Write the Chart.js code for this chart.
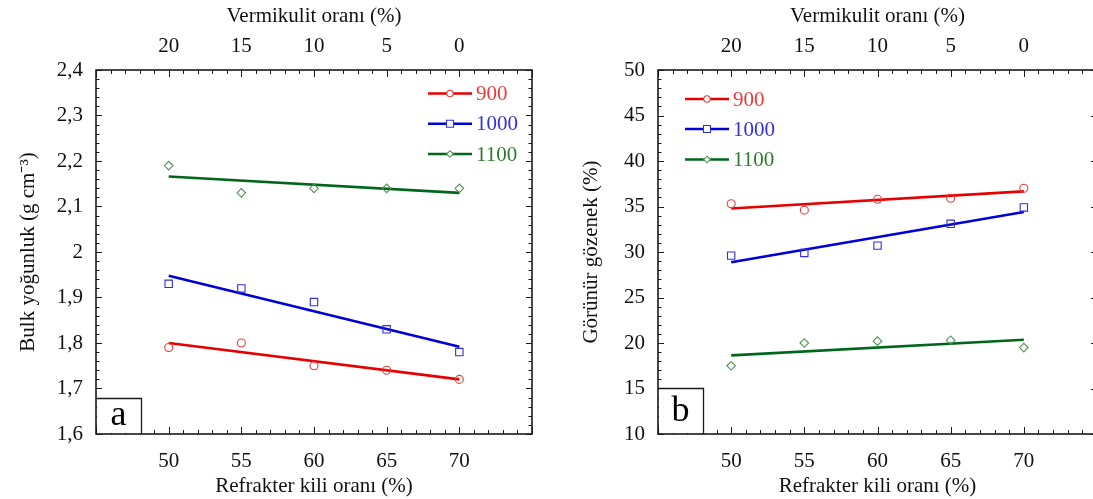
<!DOCTYPE html>
<html><head><meta charset="utf-8">
<script src="https://cdn.jsdelivr.net/npm/chart.js@4"></script>
<style>
html,body{margin:0;padding:0;background:#fff;overflow:hidden;width:1093px;height:499px;}
#wa{position:absolute;left:0;top:0;width:546px;height:499px;}
#wb{position:absolute;left:546px;top:0;width:560px;height:499px;}
canvas{display:block;}
</style></head><body>
<div id="wa"><canvas id="ca" width="546" height="499"></canvas></div>
<div id="wb"><canvas id="cb" width="560" height="499"></canvas></div>
<script>
// ---- data ----
const kil = [50, 55, 60, 65, 70];           // Refrakter kili oranı (%)
const vermikulit = [20, 15, 10, 5, 0];      // Vermikulit oranı (%)
const seriesNames = ['900', '1000', '1100'];
const bulk900  = [1.79, 1.80, 1.75, 1.74, 1.72];
const bulk1000 = [1.93, 1.92, 1.89, 1.83, 1.78];
const bulk1100 = [2.19, 2.13, 2.14, 2.14, 2.14];
const por900   = [35.3, 34.6, 35.8, 35.9, 37.0];
const por1000  = [29.6, 29.9, 30.7, 33.1, 34.9];
const por1100  = [17.5, 20.0, 20.2, 20.3, 19.5];
const bulkTicks = [1.6, 1.7, 1.8, 1.9, 2.0, 2.1, 2.2, 2.3, 2.4];
const porTicks  = [10, 15, 20, 25, 30, 35, 40, 45, 50];

const FONT = '"Liberation Serif", "Times New Roman", serif';
const lineColors = ['#e60000', '#0000d8', '#00661c'];
const markColors = ['#e83a3a', '#3030dc', '#4f9159'];
const styles = ['circle', 'rect', 'rectRot'];
const radii = [4, 5.2, 4.3];

function fit(xs, ys) {
  const n = xs.length;
  const mx = xs.reduce((a, b) => a + b, 0) / n;
  const my = ys.reduce((a, b) => a + b, 0) / n;
  let sxy = 0, sxx = 0;
  for (let i = 0; i < n; i++) { sxy += (xs[i] - mx) * (ys[i] - my); sxx += (xs[i] - mx) ** 2; }
  const b = sxy / sxx, a = my - b * mx;
  return [xs[0], xs[n - 1]].map(x => ({x: x, y: a + b * x}));
}

function buildDatasets(seriesList) {
  const ds = [];
  seriesList.forEach((ys, i) => {
    ds.push({type: 'line', label: seriesNames[i] + ' fit', data: fit(kil, ys), borderColor: lineColors[i],
      borderWidth: 2.6, pointRadius: 0, fill: false, isFit: true, order: 2});
  });
  seriesList.forEach((ys, i) => {
    ds.push({type: 'scatter', label: seriesNames[i], data: kil.map((x, j) => ({x: x, y: ys[j]})),
      pointStyle: styles[i], pointRadius: radii[i], pointBorderWidth: 1.1, borderColor: markColors[i],
      backgroundColor: 'rgba(0,0,0,0)', showLine: false, legendIdx: i, order: 1});
  });
  return ds;
}

const framePlugin = {
  id: 'frame',
  afterDatasetsDraw(chart, args, o) {
    const ctx = chart.ctx, ca = chart.chartArea;
    const xs = chart.scales.x, ys = chart.scales.y;
    ctx.save();
    ctx.strokeStyle = '#1a1a1a';
    ctx.lineWidth = 1;
    // minor/major ticks
    const nx = Math.round((xs.max - xs.min) / o.xMinor);
    const rx = Math.round(o.xMajor / o.xMinor);
    ctx.beginPath();
    for (let i = 0; i <= nx; i++) {
      const v = xs.min + i * o.xMinor;
      const p = Math.round(xs.getPixelForValue(v)) + 0.5;
      const L = (i % rx === 0) ? 7 : 4;
      ctx.moveTo(p, ca.bottom); ctx.lineTo(p, ca.bottom - L);
      ctx.moveTo(p, ca.top); ctx.lineTo(p, ca.top + L);
    }
    const ny = Math.round((ys.max - ys.min) / o.yMinor);
    const ry = Math.round(o.yMajor / o.yMinor);
    for (let i = 0; i <= ny; i++) {
      const v = ys.min + i * o.yMinor;
      const p = Math.round(ys.getPixelForValue(v)) + 0.5;
      const L = (i % ry === 0) ? 6 : 3.5;
      ctx.moveTo(ca.left, p); ctx.lineTo(ca.left + L, p);
      ctx.moveTo(ca.right, p); ctx.lineTo(ca.right - L, p);
    }
    ctx.stroke();
    // frame
    ctx.lineWidth = 1.6;
    ctx.strokeRect(ca.left, ca.top, ca.right - ca.left, ca.bottom - ca.top);
    // panel label box
    const bx = ca.left, by = ca.bottom - o.boxH, bw = o.boxW, bh = o.boxH;
    ctx.fillStyle = '#fff';
    ctx.fillRect(bx + 1, by, bw, bh - 1);
    ctx.lineWidth = 1.3;
    ctx.beginPath();
    ctx.moveTo(bx, by + 0.5); ctx.lineTo(bx + bw + 0.5, by + 0.5); ctx.lineTo(bx + bw + 0.5, ca.bottom);
    ctx.stroke();
    ctx.fillStyle = '#000';
    ctx.font = '36px ' + FONT;
    ctx.textAlign = 'center';
    ctx.textBaseline = 'alphabetic';
    ctx.fillText(o.panel, bx + bw / 2, ca.bottom - o.panelBase);
    // legend
    const dsets = chart.data.datasets.filter(d => d.legendIdx !== undefined);
    ctx.font = '21px ' + FONT;
    ctx.textAlign = 'left';
    ctx.textBaseline = 'middle';
    dsets.forEach((d, k) => {
      const i = d.legendIdx, y = o.legYs[k], x0 = o.legX;
      ctx.strokeStyle = lineColors[i];
      ctx.lineWidth = 2.6;
      ctx.beginPath(); ctx.moveTo(x0, y); ctx.lineTo(x0 + 44, y); ctx.stroke();
      const cx = x0 + 22;
      ctx.fillStyle = '#fff';
      ctx.strokeStyle = markColors[i];
      ctx.lineWidth = 1.1;
      ctx.beginPath();
      if (styles[i] === 'circle') { ctx.arc(cx, y, 3.2, 0, Math.PI * 2); }
      else if (styles[i] === 'rect') { ctx.rect(cx - 3.5, y - 3.5, 7, 7); }
      else { ctx.moveTo(cx, y - 3.3); ctx.lineTo(cx + 3.3, y); ctx.lineTo(cx, y + 3.3); ctx.lineTo(cx - 3.3, y); ctx.closePath(); }
      ctx.fill(); ctx.stroke();
      ctx.fillStyle = lineColors[i] === '#00661c' ? '#2c7a2c' : markColors[i];
      ctx.fillText(d.label, x0 + 48, y + 1);
    });
    ctx.restore();
  }
};

function makeChart(canvasId, seriesList, cfg) {
  const tickFont = {family: FONT, size: 21};
  const titleFont = {family: FONT, size: 21, lineHeight: 1};
  return new Chart(document.getElementById(canvasId), {
    data: {datasets: buildDatasets(seriesList)},
    plugins: [framePlugin],
    options: {
      responsive: false, animation: false, devicePixelRatio: 1,
      layout: {padding: {left: 0, right: cfg.padRight, top: 0, bottom: 0}},
      plugins: {legend: {display: false}, tooltip: {enabled: false}, frame: cfg.frame},
      scales: {
        x: {type: 'linear', position: 'bottom', min: 45, max: 75,
          afterBuildTicks: s => { s.ticks = kil.map(v => ({value: v})); },
          afterFit: s => { s.height = 65; },
          grid: {display: false, drawTicks: false}, border: {display: false},
          ticks: {font: tickFont, color: '#111', padding: 15, maxRotation: 0, autoSkip: false},
          title: {display: true, text: 'Refrakter kili oranı (%)', font: titleFont, color: '#111', padding: {top: 0, bottom: 2}}},
        x2: {type: 'linear', axis: 'x', position: 'top', min: 45, max: 75,
          afterBuildTicks: s => { s.ticks = kil.map(v => ({value: v})); },
          afterFit: s => { s.height = 70; },
          grid: {display: false, drawTicks: false}, border: {display: false},
          ticks: {font: tickFont, color: '#111', padding: 11, maxRotation: 0, autoSkip: false,
            callback: v => vermikulit[kil.indexOf(v)]},
          title: {display: true, text: 'Vermikulit oranı (%)', font: titleFont, color: '#111', padding: {top: 6, bottom: 0}}},
        y: {type: 'linear', position: 'left', min: cfg.yTicks[0], max: cfg.yTicks[cfg.yTicks.length - 1],
          afterBuildTicks: s => { s.ticks = cfg.yTicks.map(v => ({value: v})); },
          afterFit: s => { s.width = cfg.yWidth; },
          grid: {display: false, drawTicks: false}, border: {display: false},
          ticks: {font: tickFont, color: '#111', padding: 13, autoSkip: false,
            callback: v => String(Math.round(v * 10) / 10).replace('.', ',')},
          title: {display: true, text: cfg.yTitle, font: titleFont, color: '#111', padding: {top: cfg.yTitlePad, bottom: 0}}}
      }
    }
  });
}

makeChart('ca', [bulk900, bulk1000, bulk1100], {
  padRight: 14, yWidth: 96, yTicks: bulkTicks, yTitle: 'Bulk yoğunluk (g cm⁻³)', yTitlePad: 18,
  frame: {xMinor: 1, xMajor: 5, yMinor: 0.02, yMajor: 0.1, panel: 'a', boxW: 45, boxH: 36, panelBase: 9,
    legX: 428, legYs: [93.5, 123.7, 154]}
});
makeChart('cb', [por900, por1000, por1100], {
  padRight: 9, yWidth: 112, yTicks: porTicks, yTitle: 'Görünür gözenek (%)', yTitlePad: 35,
  frame: {xMinor: 1, xMajor: 5, yMinor: 1, yMajor: 5, panel: 'b', boxW: 45, boxH: 46, panelBase: 13,
    legX: 139, legYs: [99, 129, 159.5]}
});
</script>
</body></html>
